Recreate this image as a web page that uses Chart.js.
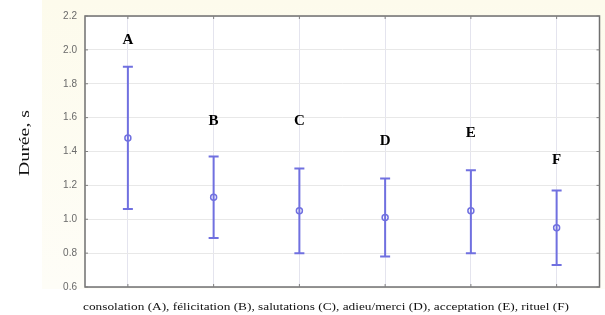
<!DOCTYPE html>
<html>
<head>
<meta charset="utf-8">
<script src="https://cdn.jsdelivr.net/npm/chart.js@4.4.1/dist/chart.umd.min.js"></script>
<style>
  html, body { margin: 0; padding: 0; background: #ffffff; }
  #wrap { width: 605px; height: 315px; position: relative; }
</style>
</head>
<body>
<div id="wrap"><canvas id="chart-duree" width="605" height="315"></canvas></div>
<script>
// categories and values
var categories = ['A', 'B', 'C', 'D', 'E', 'F'];
var means  = [1.48, 1.13, 1.05, 1.01, 1.05, 0.95];
var upper  = [1.90, 1.37, 1.30, 1.24, 1.29, 1.17];
var lower  = [1.06, 0.89, 0.80, 0.78, 0.80, 0.73];
// height (in data units) where each letter sits
var letterY = [2.06, 1.58, 1.58, 1.46, 1.51, 1.35];
var yTicks = [0.6, 0.8, 1.0, 1.2, 1.4, 1.6, 1.8, 2.0, 2.2];
var yTitle = 'Durée, s';
var xTitle = 'consolation (A), félicitation (B), salutations (C), adieu/merci (D), acceptation (E), rituel (F)';

var blue = 'rgb(112,112,224)';

var backgroundPlugin = {
    id: 'backgroundPlugin',
    beforeDraw: function(chart) {
        var ctx = chart.ctx;
        var a = chart.chartArea;
        ctx.save();
        var g = ctx.createLinearGradient(0, 0, 0, a.bottom);
        g.addColorStop(0, '#fdfbec');
        g.addColorStop(1, '#fefdf7');
        ctx.fillStyle = g;
        ctx.fillRect(42, 0, chart.width - 42, a.bottom + 2);
        ctx.fillStyle = '#ffffff';
        ctx.fillRect(a.left, a.top, a.right - a.left, a.bottom - a.top);
        ctx.restore();
    }
};

// draws text stretched to a given width
function fillStretched(ctx, text, x, y, width) {
    var w = ctx.measureText(text).width;
    ctx.save();
    ctx.translate(x, y);
    ctx.scale(width / w, 1);
    ctx.fillText(text, 0, 0);
    ctx.restore();
}

var errorBarPlugin = {
    id: 'errorBarPlugin',
    afterDatasetsDraw: function(chart) {
        var ctx = chart.ctx;
        var xs = chart.scales.x;
        var ys = chart.scales.y;
        var a = chart.chartArea;
        ctx.save();
        // frame
        ctx.strokeStyle = '#707070';
        ctx.lineWidth = 1.5;
        ctx.strokeRect(a.left, a.top, a.right - a.left, a.bottom - a.top);
        // small tick marks
        ctx.lineWidth = 1;
        ctx.strokeStyle = '#808080';
        for (var t = 0; t < yTicks.length; t++) {
            var ty = ys.getPixelForValue(yTicks[t]);
            ctx.beginPath();
            ctx.moveTo(a.left, ty); ctx.lineTo(a.left + 3, ty);
            ctx.moveTo(a.right, ty); ctx.lineTo(a.right - 3, ty);
            ctx.stroke();
        }
        for (var c = 0; c < categories.length; c++) {
            var tx = xs.getPixelForValue(c);
            ctx.beginPath();
            ctx.moveTo(tx, a.bottom); ctx.lineTo(tx, a.bottom - 3);
            ctx.moveTo(tx, a.top); ctx.lineTo(tx, a.top + 3);
            ctx.stroke();
        }
        // error bars
        ctx.strokeStyle = blue;
        ctx.lineWidth = 2;
        for (var i = 0; i < categories.length; i++) {
            var x = xs.getPixelForValue(i);
            var yt = ys.getPixelForValue(upper[i]);
            var yb = ys.getPixelForValue(lower[i]);
            ctx.beginPath();
            ctx.moveTo(x, yt); ctx.lineTo(x, yb);
            ctx.moveTo(x - 5, yt); ctx.lineTo(x + 5, yt);
            ctx.moveTo(x - 5, yb); ctx.lineTo(x + 5, yb);
            ctx.stroke();
        }
        // letters
        ctx.fillStyle = '#000000';
        ctx.font = 'bold 15px "Liberation Serif", "Times New Roman", serif';
        ctx.textAlign = 'center';
        ctx.textBaseline = 'middle';
        for (var j = 0; j < categories.length; j++) {
            ctx.fillText(categories[j], xs.getPixelForValue(j), ys.getPixelForValue(letterY[j]));
        }
        // titles
        ctx.fillStyle = '#111111';
        ctx.font = '11px "Liberation Serif", "Times New Roman", serif';
        fillStretched(ctx, xTitle, 326, 307, 486);
        ctx.font = '15px "Liberation Serif", "Times New Roman", serif';
        ctx.translate(25, 143);
        ctx.rotate(-Math.PI / 2);
        fillStretched(ctx, yTitle, 0, 0, 66);
        ctx.restore();
    }
};

var ctx = document.getElementById('chart-duree').getContext('2d');
var dureeChart = new Chart(ctx, {
    type: 'line',
    data: {
        labels: categories,
        datasets: [{
            label: 'Durée',
            data: means,
            showLine: false,
            borderColor: blue,
            backgroundColor: 'rgba(255,255,255,0)',
            pointRadius: 3,
            pointBorderWidth: 1.5,
            pointStyle: 'circle'
        }]
    },
    options: {
        responsive: false,
        animation: false,
        layout: { padding: { left: 0, right: 5, top: 16, bottom: 0 } },
        plugins: {
            legend: { display: false },
            tooltip: { enabled: false }
        },
        scales: {
            x: {
                type: 'category',
                offset: true,
                grid: { color: '#e4e4ee', drawTicks: false, lineWidth: 1 },
                border: { display: false },
                ticks: { display: false },
                afterFit: function(scale) { scale.height = 28; }
            },
            y: {
                min: 0.6,
                max: 2.2,
                afterBuildTicks: function(scale) {
                    scale.ticks = yTicks.map(function(v) { return { value: v }; });
                },
                grid: { color: '#e8e8e8', drawTicks: false, lineWidth: 1 },
                border: { display: false },
                ticks: {
                    padding: 8,
                    color: '#6a6a6a',
                    font: { family: 'Arial, "Liberation Sans", sans-serif', size: 10 },
                    callback: function(v) { return Number(v).toFixed(1); }
                },
                afterFit: function(scale) { scale.width = 85; }
            }
        }
    },
    plugins: [backgroundPlugin, errorBarPlugin]
});
</script>
</body>
</html>
